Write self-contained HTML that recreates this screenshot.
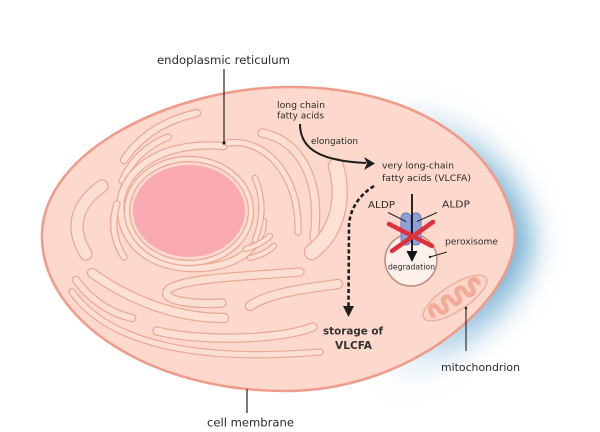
<!DOCTYPE html>
<html>
<head>
<meta charset="utf-8">
<style>
  html,body{margin:0;padding:0;background:#fff;}
  svg{display:block;}
  text{font-family:"DejaVu Sans","Liberation Sans",sans-serif;fill:#2a2a2a;}
</style>
</head>
<body>
<svg width="600" height="432" viewBox="0 0 600 432" xmlns="http://www.w3.org/2000/svg">
  <defs>
    <linearGradient id="sg" gradientUnits="userSpaceOnUse" x1="370" y1="0" x2="525" y2="0">
      <stop offset="0" stop-color="#64a6cf" stop-opacity="0"/>
      <stop offset="0.6" stop-color="#64a6cf" stop-opacity="0.75"/>
      <stop offset="1" stop-color="#569ec9" stop-opacity="1"/>
    </linearGradient>
    <filter id="blur" x="-30%" y="-30%" width="160%" height="160%">
      <feGaussianBlur stdDeviation="15"/>
    </filter>
    <path id="cellp" d="M42 236 C42 150 175 87 290 87 C420 87 500 150 514 226 C525 290 420 391 285 391 C150 391 42 320 42 236 Z"/>

    <path id="e1" d="M124 160 Q148 124 197 113"/>
    <path id="e2" d="M122 181 Q136 150 168 137"/>
    <path id="e3" d="M224 146 C150 140 115 180 121 215 C127 255 165 270 200 268 C240 266 262 245 263 222"/>
    <ellipse id="e4" cx="189" cy="211" rx="62" ry="52"/>
    <path id="e5" d="M102 186 Q62 215 86 254"/>
    <path id="e6" d="M117 204 Q108 232 124 257"/>
    <path id="e7" d="M255 178 Q268 208 255 240"/>
    <path id="e8" d="M228 143 C265 138 300 175 298 232"/>
    <path id="e9" d="M262 133 C300 140 322 180 314 238"/>
    <path id="e10" d="M336 166 C344 195 340 230 312 252"/>
    <path id="e11" d="M76 280 Q98 310 132 318"/>
    <path id="e12" d="M92 273 C130 300 175 318 224 318"/>
    <path id="e13" d="M300 272 C250 276 180 278 168 290 C160 300 190 305 222 303"/>
    <path id="e14" d="M338 284 C310 288 270 292 250 306"/>
    <path id="e15" d="M313 327 C280 340 200 342 157 331"/>
    <path id="e16" d="M72 292 C110 345 200 362 320 352"/>
    <path id="e17" d="M246 249 Q262 244 270 236"/>
    <path id="e18" d="M250 258 Q266 254 274 246"/>
  </defs>

  <!-- glow -->
  <use href="#cellp" transform="translate(16,6)" fill="url(#sg)" filter="url(#blur)"/>

  <!-- cell -->
  <use href="#cellp" fill="#fcd9cc" stroke="#f09c8a" stroke-width="2.6"/>

  <!-- ER -->
  <g fill="none" stroke-linecap="round">
    <use href="#e16" stroke="#eaa792" stroke-width="7.4"/><use href="#e16" stroke="#fcdfd3" stroke-width="5"/>
    <use href="#e1" stroke="#eaa792" stroke-width="8.4"/><use href="#e1" stroke="#fde1d5" stroke-width="6"/>
    <use href="#e2" stroke="#eaa792" stroke-width="7.4"/><use href="#e2" stroke="#fde1d5" stroke-width="5"/>
    <use href="#e3" stroke="#eaa792" stroke-width="8.4"/><use href="#e3" stroke="#fde1d5" stroke-width="6"/>
    <use href="#e4" stroke="#eaa792" stroke-width="6.4"/><use href="#e4" stroke="#fde1d5" stroke-width="4"/>
    <use href="#e5" stroke="#eaa792" stroke-width="13.4"/><use href="#e5" stroke="#fcdfd3" stroke-width="11"/>
    <use href="#e6" stroke="#eaa792" stroke-width="7.4"/><use href="#e6" stroke="#fde1d5" stroke-width="5"/>
    <use href="#e7" stroke="#eaa792" stroke-width="6.4"/><use href="#e7" stroke="#fde1d5" stroke-width="4"/>
    <use href="#e9" stroke="#eaa792" stroke-width="9.4"/><use href="#e9" stroke="#fcdfd3" stroke-width="7"/>
    <use href="#e8" stroke="#eaa792" stroke-width="7.4"/><use href="#e8" stroke="#fde1d5" stroke-width="5"/>
    <use href="#e10" stroke="#eaa792" stroke-width="16.4"/><use href="#e10" stroke="#fde1d5" stroke-width="14"/>
    <use href="#e11" stroke="#eaa792" stroke-width="8.4"/><use href="#e11" stroke="#fcdfd3" stroke-width="6"/>
    <use href="#e12" stroke="#eaa792" stroke-width="10.4"/><use href="#e12" stroke="#fde1d5" stroke-width="8"/>
    <use href="#e13" stroke="#eaa792" stroke-width="9.4"/><use href="#e13" stroke="#fcdfd3" stroke-width="7"/>
    <use href="#e14" stroke="#eaa792" stroke-width="10.4"/><use href="#e14" stroke="#fcdfd3" stroke-width="8"/>
    <use href="#e15" stroke="#eaa792" stroke-width="9.4"/><use href="#e15" stroke="#fde1d5" stroke-width="7"/>
    <use href="#e17" stroke="#eaa792" stroke-width="6.4"/><use href="#e17" stroke="#fde1d5" stroke-width="4"/>
    <use href="#e18" stroke="#eaa792" stroke-width="6.4"/><use href="#e18" stroke="#fde1d5" stroke-width="4"/>
  </g>

  <!-- nucleus -->
  <ellipse cx="189" cy="211" rx="56" ry="46" fill="#f9aab0"/>

  <!-- mitochondrion -->
  <g transform="translate(455,298) rotate(-33)">
    <ellipse cx="0" cy="0" rx="37" ry="13" fill="#fbd5c7" stroke="#eeae9c" stroke-width="1.4"/>
    <path d="M-28 3 Q-28 -6 -24 -6 Q-20 -6 -20 0 Q-20 6 -16 6 Q-12 6 -12 0 Q-12 -6 -8 -6 Q-4 -6 -4 0 Q-4 6 0 6 Q4 6 4 0 Q4 -6 8 -6 Q12 -6 12 0 Q12 6 16 6 Q20 6 20 0 Q20 -6 24 -6 Q28 -6 28 0" fill="none" stroke="#f3ab98" stroke-width="4.6" stroke-linecap="round"/>
  </g>

  <!-- elongation arrow -->
  <path d="M300 124 C300 150 322 161 366 163" fill="none" stroke="#1e1e1e" stroke-width="2"/>
  <path d="M364 157 L375 163.5 L364 170 L367 163.5 Z" fill="#1e1e1e"/>

  <!-- dashed arrow to storage -->
  <path d="M374 186 C358 196 350 210 349 225 L348.5 306" fill="none" stroke="#1e1e1e" stroke-width="2.6" stroke-dasharray="4 2.6"/>
  <path d="M343 306 L354 306 L348.5 317 Z" fill="#1e1e1e"/>

  <!-- peroxisome -->
  <circle cx="411" cy="260" r="26" fill="#fdf0ea" stroke="#c78c7c" stroke-width="1.6"/>

  <!-- ALDP transporters -->
  <rect x="401" y="213" width="10" height="32" rx="5" fill="#8da0d8" stroke="#6a7cc0" stroke-width="1"/>
  <rect x="411" y="213" width="10" height="32" rx="5" fill="#8da0d8" stroke="#6a7cc0" stroke-width="1"/>

  <!-- ALDP pointer lines -->
  <line x1="388" y1="212.5" x2="406" y2="221.5" stroke="#222" stroke-width="1"/>
  <line x1="437" y1="212.5" x2="417" y2="221.5" stroke="#222" stroke-width="1"/>

  <!-- vertical arrow -->
  <line x1="412" y1="194" x2="412" y2="253" stroke="#111" stroke-width="1.8"/>
  <path d="M406.5 251 L417.5 251 L412 262 Z" fill="#111"/>

  <!-- red X -->
  <g stroke="#e0303a" stroke-width="4.5" stroke-linecap="round">
    <line x1="389" y1="224" x2="432" y2="246"/>
    <line x1="392" y1="251" x2="433" y2="222"/>
  </g>

  <!-- peroxisome pointer -->
  <line x1="430" y1="257" x2="447" y2="252" stroke="#222" stroke-width="1"/>
  <circle cx="430" cy="257" r="1.2" fill="#222"/>

  <!-- ER pointer -->
  <line x1="224" y1="69" x2="224" y2="143" stroke="#222" stroke-width="1.2"/>
  <circle cx="224" cy="143" r="1.6" fill="#222"/>

  <!-- cell membrane pointer -->
  <line x1="247" y1="389" x2="247" y2="413" stroke="#222" stroke-width="1.2"/>

  <!-- mitochondrion pointer -->
  <line x1="466" y1="308" x2="466" y2="351" stroke="#222" stroke-width="1.1"/>
  <circle cx="466" cy="308" r="1.3" fill="#222"/>

  <!-- texts -->
  <text x="157" y="64" font-size="11.5" textLength="133" lengthAdjust="spacingAndGlyphs">endoplasmic reticulum</text>
  <text x="207" y="426.5" font-size="11.5" textLength="87" lengthAdjust="spacingAndGlyphs">cell membrane</text>
  <text x="277" y="108" font-size="9" textLength="48" lengthAdjust="spacingAndGlyphs">long chain</text>
  <text x="277" y="118.5" font-size="9" textLength="47" lengthAdjust="spacingAndGlyphs">fatty acids</text>
  <text x="311" y="144" font-size="9" textLength="47" lengthAdjust="spacingAndGlyphs">elongation</text>
  <text x="382" y="168.5" font-size="9" textLength="72" lengthAdjust="spacingAndGlyphs">very long-chain</text>
  <text x="382" y="181" font-size="9" textLength="89" lengthAdjust="spacingAndGlyphs">fatty acids (VLCFA)</text>
  <text x="368" y="208" font-size="10" textLength="27" lengthAdjust="spacingAndGlyphs">ALDP</text>
  <text x="442" y="207.5" font-size="10" textLength="28" lengthAdjust="spacingAndGlyphs">ALDP</text>
  <text x="445" y="244.5" font-size="9" textLength="53" lengthAdjust="spacingAndGlyphs">peroxisome</text>
  <text x="388" y="269.5" font-size="8" textLength="47" lengthAdjust="spacingAndGlyphs">degradation</text>
  <text x="323" y="334.5" font-size="11" font-weight="bold" textLength="60" lengthAdjust="spacingAndGlyphs" style="fill:#333">storage of</text>
  <text x="335" y="349" font-size="11" font-weight="bold" textLength="37" lengthAdjust="spacingAndGlyphs" style="fill:#333">VLCFA</text>
  <text x="441" y="371" font-size="10.5" textLength="79" lengthAdjust="spacingAndGlyphs">mitochondrion</text>
</svg>
</body>
</html>
